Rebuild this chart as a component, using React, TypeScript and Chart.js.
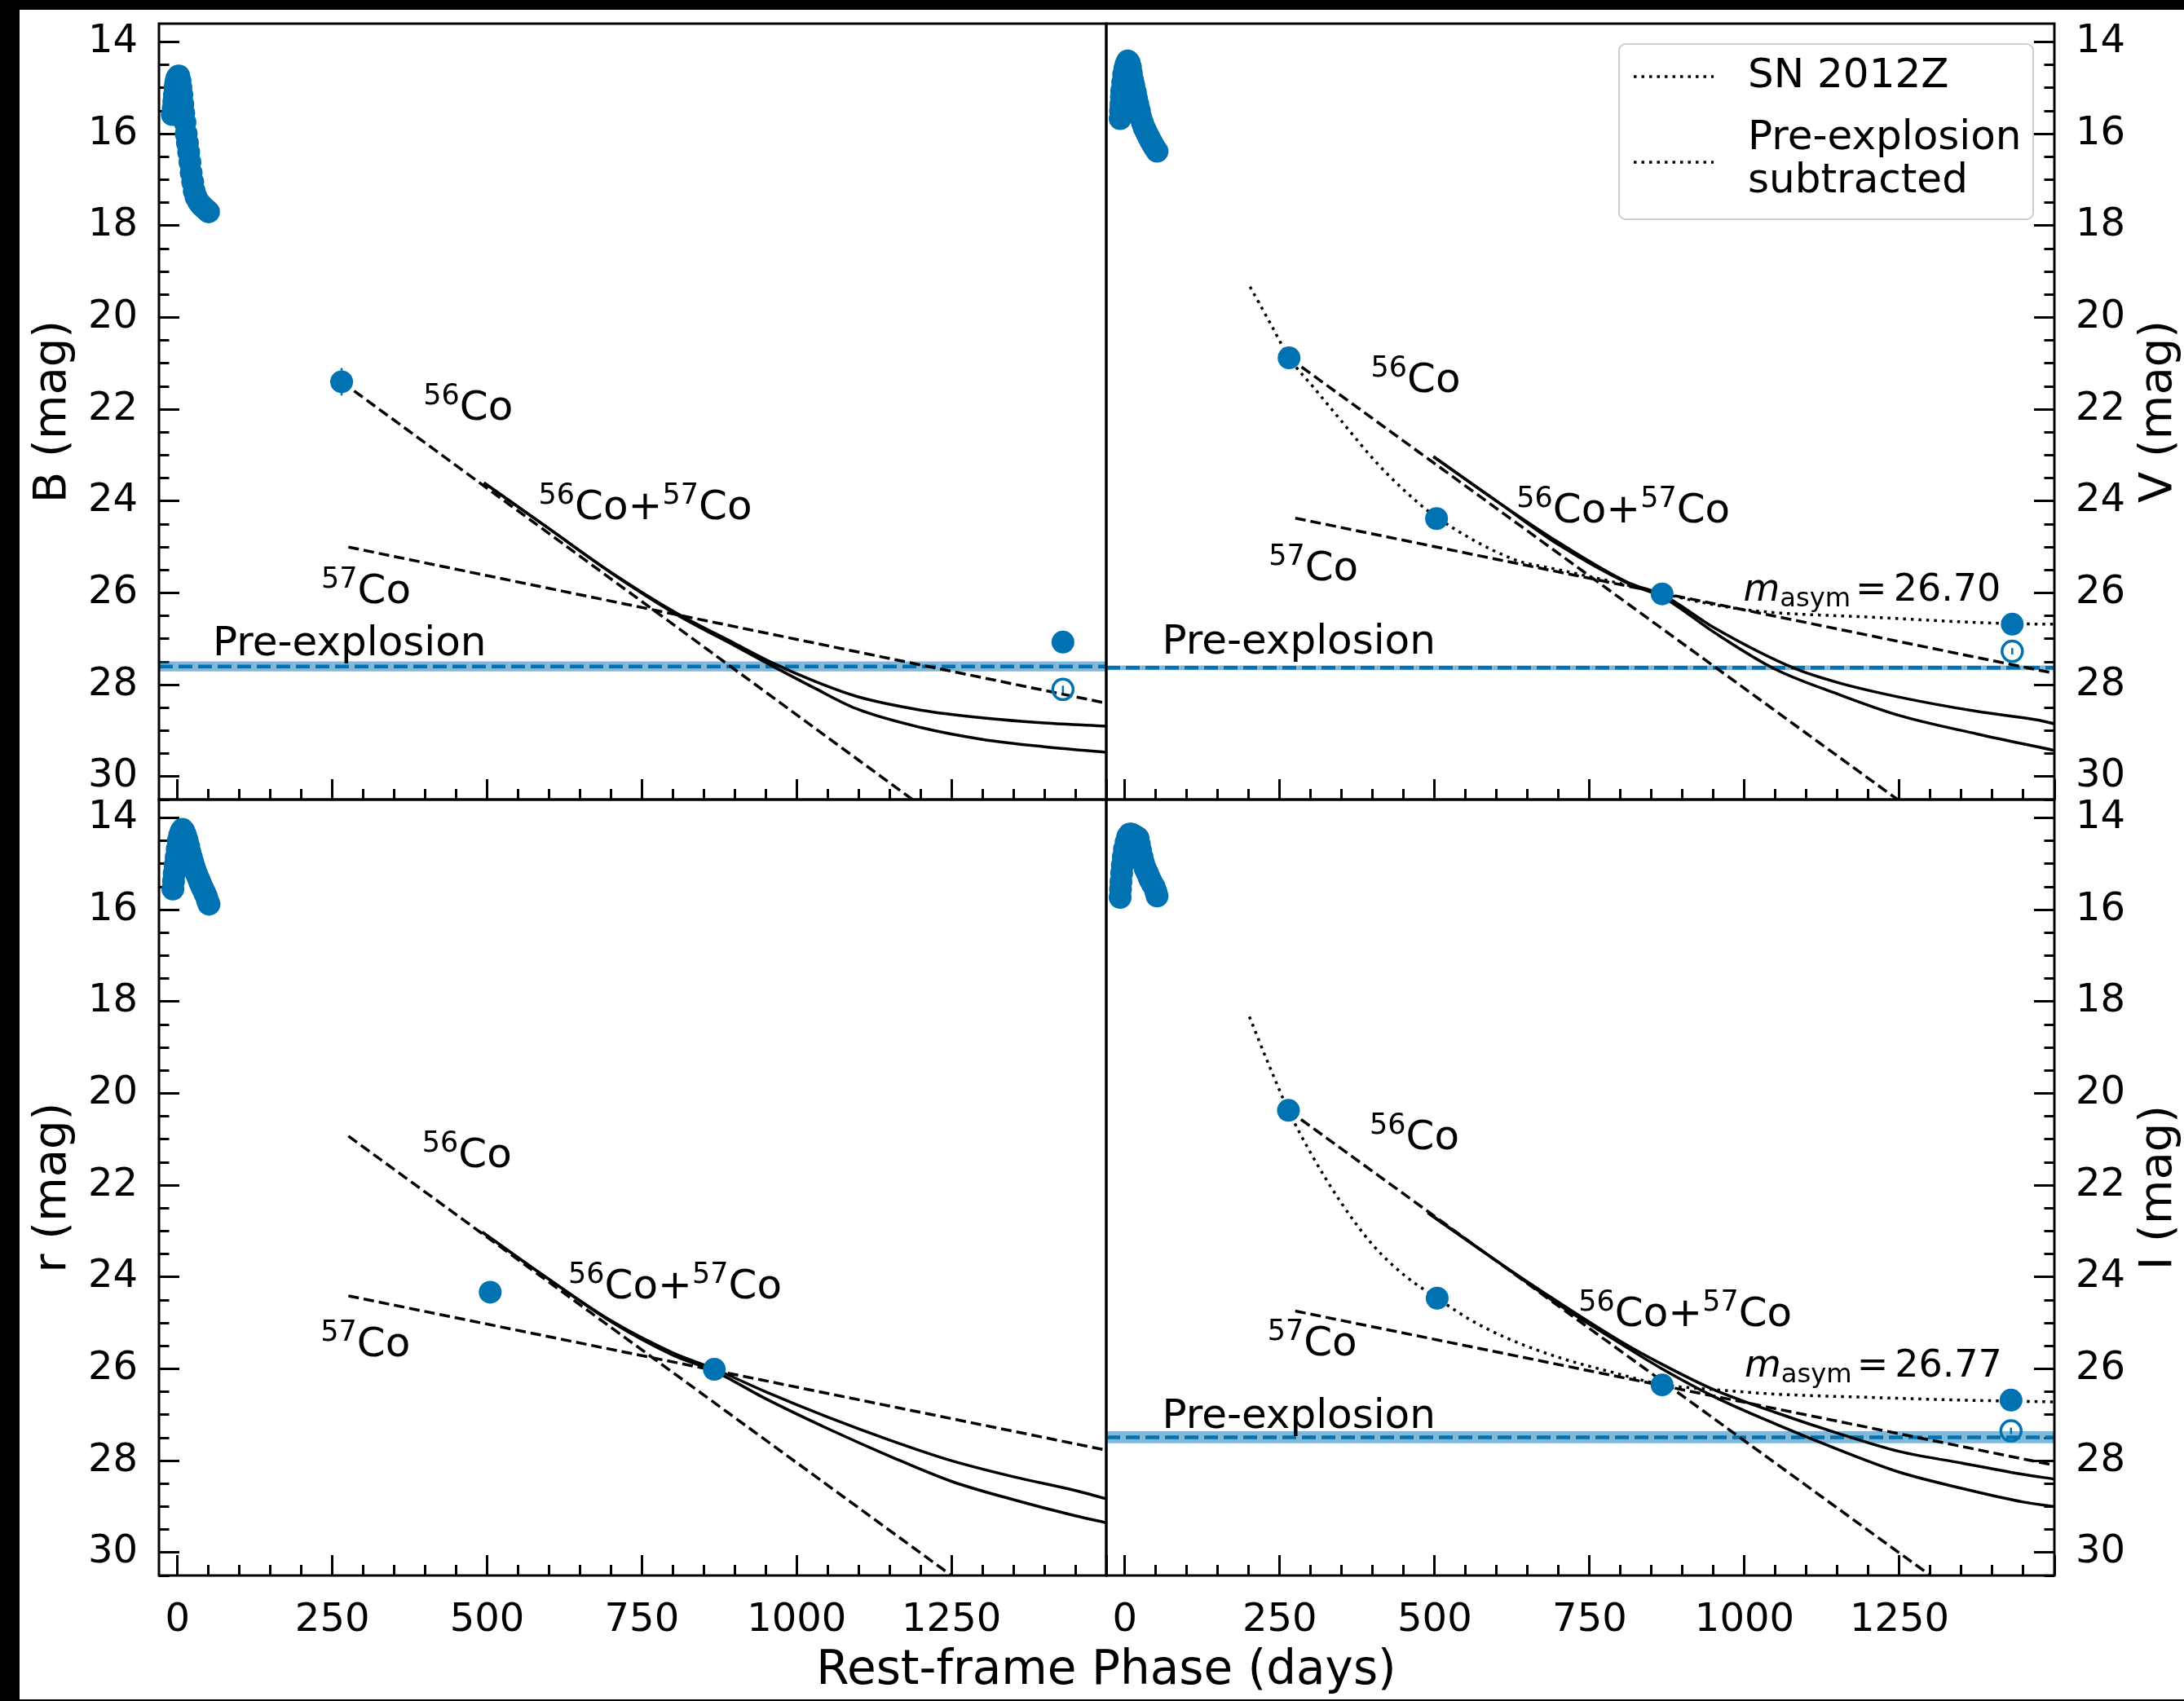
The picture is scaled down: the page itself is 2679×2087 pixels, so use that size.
import React, { useEffect, useRef } from 'react';
import { Chart, registerables } from 'chart.js';

Chart.register(...registerables);

// ---------------- page / axes ----------------
const PAGE_W = 2679;
const PAGE_H = 2087;
const PHASE_MIN = -30;
const PHASE_MAX = 1500;
const MAG_BRIGHT = 13.6;
const MAG_FAINT = 30.5;
const PHASE_MAJOR_STEP = 250;
const PHASE_MINOR_STEP = 50;
const MAG_MAJOR_STEP = 2;
const MAG_MINOR_STEP = 0.5;
const LAST_PHASE_LABEL = 1250;
const X_TITLE = 'Rest-frame Phase (days)';

// ---------------- B band ----------------
const bEarlyPhase = [-8.5, -7, -6, -5, -4, -3, -1.5, 0.5, 2, 4, 5.5, 7, 8.5, 10, 12, 14, 16, 18, 20, 22, 24.5, 27, 30, 34, 38, 42, 46, 50];
const bEarlyMag = [15.58, 15.45, 15.3, 15.15, 15.0, 14.9, 14.8, 14.75, 14.74, 14.85, 15.0, 15.15, 15.35, 15.55, 15.75, 16.0, 16.2, 16.4, 16.62, 16.85, 17.05, 17.25, 17.38, 17.48, 17.55, 17.6, 17.65, 17.7];
const bLatePhase = [265, 1430];
const bLateMag = [21.4, 27.07];
const bLateErr = [0.3, 0.1];
const bSubPhase = [1430];
const bSubMag = [28.1];
const bSubErr = [0.08];
const bPreMag = 27.6;
const bPreErr = 0.11;
const bCo56Phase = [265, 1187];
const bCo56Mag = [21.4, 30.5];
const bCo57Phase = [276, 1500];
const bCo57Mag = [25.0, 28.4];
const bSumAPhase = [495, 600, 700, 806, 900, 962, 1030, 1096, 1200, 1300, 1400, 1500];
const bSumAMag = [23.6, 24.6, 25.55, 26.44, 27.1, 27.53, 27.93, 28.25, 28.55, 28.72, 28.83, 28.9];
const bSumBPhase = [495, 600, 700, 806, 900, 962, 1030, 1096, 1200, 1300, 1400, 1500];
const bSumBMag = [23.6, 24.6, 25.56, 26.47, 27.15, 27.6, 28.08, 28.52, 28.93, 29.19, 29.35, 29.47];

// ---------------- V band ----------------
const vEarlyPhase = [-7.6, -7, -6.3, -5.6, -5, -3.5, -2, 0, 2, 4.6, 7, 9, 10.5, 12.5, 14.5, 17, 19, 21, 23.5, 25.7, 28.5, 31, 33.2, 36, 39, 42, 45, 48, 52];
const vEarlyMag = [15.67, 15.5, 15.36, 15.2, 15.06, 14.88, 14.71, 14.58, 14.48, 14.41, 14.45, 14.55, 14.68, 14.83, 14.95, 15.1, 15.24, 15.36, 15.5, 15.65, 15.76, 15.86, 15.92, 16.0, 16.08, 16.16, 16.23, 16.3, 16.38];
const vLatePhase = [265, 503, 867, 1432];
const vLateMag = [20.88, 24.38, 26.02, 26.68];
const vLateErr = [0.08, 0.1, 0.08, 0.08];
const vSubPhase = [1432];
const vSubMag = [27.27];
const vSubErr = [0.07];
const vPreMag = 27.63;
const vPreErr = 0.05;
const vCo56Phase = [265, 1247];
const vCo56Mag = [20.88, 30.5];
const vCo57Phase = [275, 1500];
const vCo57Mag = [24.37, 27.75];
const vSumAPhase = [498, 600, 700, 813, 869, 950, 1082, 1150, 1250, 1375, 1474, 1500];
const vSumAMag = [23.03, 24.0, 24.9, 25.78, 26.05, 26.75, 27.65, 27.95, 28.27, 28.58, 28.77, 28.85];
const vSumBPhase = [498, 600, 700, 813, 869, 950, 1048, 1150, 1250, 1375, 1500];
const vSumBMag = [23.03, 24.0, 24.95, 25.8, 26.1, 26.85, 27.65, 28.2, 28.67, 29.07, 29.43];
const vDotPhase = [202, 234, 266, 305, 351, 402, 452, 502, 628, 695, 762, 830, 869, 998, 1208, 1432, 1500];
const vDotMag = [19.33, 20.11, 20.89, 21.53, 22.28, 23.1, 23.78, 24.34, 25.27, 25.48, 25.68, 25.89, 26.02, 26.36, 26.53, 26.67, 26.68];
const vAsym = '26.70';

// ---------------- r band ----------------
const rEarlyPhase = [-7.5, -6.5, -5.4, -4, -2.2, -0.5, 1.2, 3.5, 5.5, 7.8, 10, 12, 14, 15.7, 18, 20, 22.3, 24.5, 26.5, 28.8, 31, 33.5, 35.5, 37.7, 40, 42.5, 44.5, 46.5, 48.5, 50.8];
const rEarlyMag = [15.55, 15.38, 15.21, 15.03, 14.86, 14.68, 14.5, 14.38, 14.3, 14.25, 14.28, 14.35, 14.43, 14.5, 14.62, 14.75, 14.86, 14.96, 15.06, 15.15, 15.23, 15.31, 15.38, 15.45, 15.52, 15.59, 15.65, 15.71, 15.8, 15.88];
const rLatePhase = [505, 867];
const rLateMag = [24.33, 26.01];
const rLateErr = [0.1, 0.08];
const rCo56Phase = [276, 1250];
const rCo56Mag = [20.93, 30.5];
const rCo57Phase = [276, 1500];
const rCo57Mag = [24.41, 27.77];
const rSumAPhase = [492, 600, 700, 800, 867, 950, 1050, 1150, 1250, 1350, 1450, 1500];
const rSumAMag = [23.02, 24.05, 24.95, 25.65, 26.0, 26.5, 27.05, 27.55, 28.0, 28.35, 28.65, 28.83];
const rSumBPhase = [492, 600, 700, 800, 867, 950, 1050, 1150, 1250, 1350, 1450, 1500];
const rSumBMag = [23.02, 24.05, 24.97, 25.7, 26.05, 26.65, 27.3, 27.9, 28.45, 28.85, 29.2, 29.35];

// ---------------- I band ----------------
const iEarlyPhase = [-7.6, -7, -6.3, -5.2, -4.1, -2.5, -0.6, 2, 4.6, 7, 9.1, 11.5, 14, 16.5, 19, 21.3, 23.5, 25.5, 27.9, 30, 32.5, 34.5, 36.7, 39, 41.5, 44.5, 47.7, 50, 52];
const iEarlyMag = [15.73, 15.55, 15.39, 15.2, 15.03, 14.85, 14.68, 14.53, 14.41, 14.36, 14.35, 14.36, 14.38, 14.4, 14.42, 14.44, 14.58, 14.72, 14.86, 14.98, 15.09, 15.15, 15.21, 15.29, 15.36, 15.44, 15.51, 15.6, 15.7];
const iLatePhase = [264, 504, 867, 1430];
const iLateMag = [20.37, 24.46, 26.35, 26.68];
const iLateErr = [0.08, 0.1, 0.08, 0.08];
const iSubPhase = [1430];
const iSubMag = [27.35];
const iSubErr = [0.07];
const iPreMag = 27.49;
const iPreErr = 0.13;
const iCo56Phase = [264, 1300];
const iCo56Mag = [20.37, 30.5];
const iCo57Phase = [275, 1500];
const iCo57Mag = [24.74, 28.1];
const iSumAPhase = [489, 600, 700, 800, 867, 950, 1050, 1150, 1250, 1350, 1450, 1500];
const iSumAMag = [22.6, 23.65, 24.55, 25.4, 25.9, 26.45, 26.95, 27.4, 27.8, 28.05, 28.3, 28.4];
const iSumBPhase = [489, 600, 700, 800, 867, 950, 1050, 1150, 1250, 1350, 1450, 1500];
const iSumBMag = [22.6, 23.65, 24.6, 25.45, 26.0, 26.6, 27.2, 27.75, 28.25, 28.6, 28.9, 29.0];
const iDotPhase = [201, 230, 264, 300, 350, 400, 450, 504, 560, 620, 700, 780, 867, 950, 1050, 1200, 1350, 1500];
const iDotMag = [18.33, 19.3, 20.37, 21.3, 22.4, 23.3, 23.95, 24.46, 24.95, 25.35, 25.75, 26.05, 26.34, 26.45, 26.55, 26.62, 26.68, 26.72];
const iAsym = '26.77';

// ---------------- legend ----------------
const legendLabels = [['SN 2012Z'], ['Pre-explosion', 'subtracted']];

// ---------------- styling ----------------
const BLUE = '#0072B2';
const BAND = 'rgba(0, 114, 178, 0.5)';
const FAMILY = '"DejaVu Sans", sans-serif';
const TICK_FS = 48;
const TEXT_FS = 50;
const ASYM_FS = 46;
const TITLE_FS = 56;
const XTITLE_FS = 58;
const LW = 3.5;
const DASH = [13, 6];
const DOT = [3.5, 6];

type Kind = 'n' | 'sup' | 'sub' | 'it' | 'gap';
type Part = [string, Kind, number?];
type Ann = { x: number; y: number; parts: Part[]; size?: number };
type ErrSet = { phase: number[]; mag: number[]; err: number[] };

interface PanelSpec {
  key: string;
  left: number;
  top: number;
  right: number;
  bottom: number;
  side: 'left' | 'right';
  xLabels: boolean;
  yTitle: string;
  datasets: any[];
  errs: ErrSet[];
  texts: Ann[];
  legend?: boolean;
  figureXTitle?: boolean;
}

const xy = (px: number[], mg: number[]) => px.map((x, i) => ({ x, y: mg[i] }));
const stepValues = (from: number, to: number, step: number) => {
  const out: number[] = [];
  for (let k = Math.ceil(from / step - 1e-9); k * step <= to + 1e-9; k++) out.push(+(k * step).toFixed(6));
  return out;
};

const common = { xAxisID: 'x', yAxisID: 'y' };

function filledPoints(px: number[], mg: number[]) {
  return {
    ...common,
    type: 'scatter',
    data: xy(px, mg),
    showLine: false,
    pointRadius: 14,
    pointHoverRadius: 14,
    pointBackgroundColor: BLUE,
    pointBorderColor: BLUE,
    pointBorderWidth: 0,
  };
}
function openPoints(px: number[], mg: number[]) {
  return {
    ...common,
    type: 'scatter',
    data: xy(px, mg),
    showLine: false,
    pointRadius: 12.5,
    pointHoverRadius: 12.5,
    pointBackgroundColor: 'rgba(0,0,0,0)',
    pointBorderColor: BLUE,
    pointBorderWidth: 3.5,
  };
}
function line(px: number[], mg: number[], dash: number[], curved: boolean, color = '#000', width = LW) {
  return {
    ...common,
    type: 'line',
    data: xy(px, mg),
    borderColor: color,
    borderWidth: width,
    borderDash: dash,
    borderCapStyle: 'butt',
    pointRadius: 0,
    pointHoverRadius: 0,
    fill: false,
    tension: 0,
    cubicInterpolationMode: curved ? 'monotone' : 'default',
  };
}
function preExplosion(level: number, err: number) {
  const ends = [PHASE_MIN, PHASE_MAX];
  return [
    line(ends, [level, level], [17, 7], false, BLUE, 4.5),
    {
      ...common,
      type: 'line',
      data: xy(ends, [level - err, level - err]),
      borderColor: 'rgba(0,0,0,0)',
      borderWidth: 1,
      pointRadius: 0,
      fill: false,
    },
    {
      ...common,
      type: 'line',
      data: xy(ends, [level + err, level + err]),
      borderColor: 'rgba(0,0,0,0)',
      borderWidth: 1,
      pointRadius: 0,
      fill: '-1',
      backgroundColor: BAND,
    },
  ];
}

const co56: Part[] = [['56', 'sup'], ['Co', 'n']];
const co57: Part[] = [['57', 'sup'], ['Co', 'n']];
const coSum: Part[] = [['56', 'sup'], ['Co+', 'n'], ['57', 'sup'], ['Co', 'n']];
const preText: Part[] = [['Pre-explosion', 'n']];
const asym = (v: string): Part[] => [
  ['m', 'it'],
  ['asym', 'sub'],
  ['', 'gap', 6],
  ['=', 'n'],
  ['', 'gap', 8],
  [v, 'n'],
];

const COL_L = [195, 1357];
const COL_R = [1357, 2520];
const ROW_T = [29, 981];
const ROW_B = [981, 1933];

const panels: PanelSpec[] = [
  {
    key: 'B',
    left: COL_L[0], right: COL_L[1], top: ROW_T[0], bottom: ROW_T[1],
    side: 'left', xLabels: false, yTitle: 'B (mag)',
    datasets: [
      filledPoints(bEarlyPhase, bEarlyMag),
      filledPoints(bLatePhase, bLateMag),
      openPoints(bSubPhase, bSubMag),
      line(bSumAPhase, bSumAMag, [], true),
      line(bSumBPhase, bSumBMag, [], true),
      line(bCo56Phase, bCo56Mag, DASH, false),
      line(bCo57Phase, bCo57Mag, DASH, false),
      ...preExplosion(bPreMag, bPreErr),
    ],
    errs: [
      { phase: bLatePhase, mag: bLateMag, err: bLateErr },
      { phase: bSubPhase, mag: bSubMag, err: bSubErr },
    ],
    texts: [
      { x: 397, y: 22.23, parts: co56 },
      { x: 583, y: 24.39, parts: coSum },
      { x: 232, y: 26.22, parts: co57 },
      { x: 57, y: 27.35, parts: preText },
    ],
  },
  {
    key: 'V',
    left: COL_R[0], right: COL_R[1], top: ROW_T[0], bottom: ROW_T[1],
    side: 'right', xLabels: false, yTitle: 'V (mag)', legend: true,
    datasets: [
      filledPoints(vEarlyPhase, vEarlyMag),
      filledPoints(vLatePhase, vLateMag),
      openPoints(vSubPhase, vSubMag),
      line(vDotPhase, vDotMag, DOT, true),
      line(vSumAPhase, vSumAMag, [], true),
      line(vSumBPhase, vSumBMag, [], true),
      line(vCo56Phase, vCo56Mag, DASH, false),
      line(vCo57Phase, vCo57Mag, DASH, false),
      ...preExplosion(vPreMag, vPreErr),
    ],
    errs: [
      { phase: vLatePhase, mag: vLateMag, err: vLateErr },
      { phase: vSubPhase, mag: vSubMag, err: vSubErr },
    ],
    texts: [
      { x: 397, y: 21.62, parts: co56 },
      { x: 632, y: 24.46, parts: coSum },
      { x: 232, y: 25.72, parts: co57 },
      { x: 998, y: 26.16, parts: asym(vAsym), size: ASYM_FS },
      { x: 60, y: 27.33, parts: preText },
    ],
  },
  {
    key: 'r',
    left: COL_L[0], right: COL_L[1], top: ROW_B[0], bottom: ROW_B[1],
    side: 'left', xLabels: true, yTitle: 'r (mag)', figureXTitle: true,
    datasets: [
      filledPoints(rEarlyPhase, rEarlyMag),
      filledPoints(rLatePhase, rLateMag),
      line(rSumAPhase, rSumAMag, [], true),
      line(rSumBPhase, rSumBMag, [], true),
      line(rCo56Phase, rCo56Mag, DASH, false),
      line(rCo57Phase, rCo57Mag, DASH, false),
    ],
    errs: [{ phase: rLatePhase, mag: rLateMag, err: rLateErr }],
    texts: [
      { x: 395, y: 21.61, parts: co56 },
      { x: 631, y: 24.46, parts: coSum },
      { x: 231, y: 25.73, parts: co57 },
    ],
  },
  {
    key: 'I',
    left: COL_R[0], right: COL_R[1], top: ROW_B[0], bottom: ROW_B[1],
    side: 'right', xLabels: true, yTitle: 'I (mag)',
    datasets: [
      filledPoints(iEarlyPhase, iEarlyMag),
      filledPoints(iLatePhase, iLateMag),
      openPoints(iSubPhase, iSubMag),
      line(iDotPhase, iDotMag, DOT, true),
      line(iSumAPhase, iSumAMag, [], true),
      line(iSumBPhase, iSumBMag, [], true),
      line(iCo56Phase, iCo56Mag, DASH, false),
      line(iCo57Phase, iCo57Mag, DASH, false),
      ...preExplosion(iPreMag, iPreErr),
    ],
    errs: [
      { phase: iLatePhase, mag: iLateMag, err: iLateErr },
      { phase: iSubPhase, mag: iSubMag, err: iSubErr },
    ],
    texts: [
      { x: 395, y: 21.21, parts: co56 },
      { x: 732, y: 25.07, parts: coSum },
      { x: 230, y: 25.7, parts: co57 },
      { x: 1000, y: 26.16, parts: asym(iAsym), size: ASYM_FS },
      { x: 60, y: 27.28, parts: preText },
    ],
  },
];

function drawRich(ctx: CanvasRenderingContext2D, x: number, y: number, parts: Part[], size: number) {
  let cx = x;
  ctx.textAlign = 'left';
  ctx.textBaseline = 'alphabetic';
  for (const [t, k, g] of parts) {
    if (k === 'gap') {
      cx += g || 0;
      continue;
    }
    let fs = size;
    let dy = 0;
    let style = '';
    if (k === 'sup') {
      fs = size * 0.7;
      dy = -size * 0.38;
    } else if (k === 'sub') {
      fs = size * 0.7;
      dy = size * 0.17;
    } else if (k === 'it') {
      style = 'italic ';
    }
    ctx.font = `${style}${fs}px ${FAMILY}`;
    ctx.fillText(t, cx, y + dy);
    cx += ctx.measureText(t).width;
  }
}

function drawLegend(ctx: CanvasRenderingContext2D, area: any) {
  const r = area.right - 26;
  const l = r - 508;
  const t = area.top + 25;
  const b = t + 215;
  ctx.save();
  ctx.beginPath();
  (ctx as any).roundRect(l, t, r - l, b - t, 8);
  ctx.fillStyle = 'rgba(255,255,255,0.8)';
  ctx.fill();
  ctx.strokeStyle = '#cccccc';
  ctx.lineWidth = 2;
  ctx.stroke();
  const rows = [
    { sample: t + 40, lines: [t + 40] },
    { sample: t + 145, lines: [t + 116, t + 169] },
  ];
  legendLabels.forEach((label, i) => {
    const row = rows[i];
    ctx.beginPath();
    ctx.setLineDash(DOT);
    ctx.lineWidth = LW;
    ctx.strokeStyle = '#000';
    ctx.moveTo(l + 18, row.sample);
    ctx.lineTo(l + 116, row.sample);
    ctx.stroke();
    ctx.setLineDash([]);
    ctx.fillStyle = '#000';
    ctx.font = `${TEXT_FS}px ${FAMILY}`;
    ctx.textAlign = 'left';
    ctx.textBaseline = 'middle';
    label.forEach((txt, j) => ctx.fillText(txt, l + 158, row.lines[j]));
  });
  ctx.restore();
}

function buildConfig(spec: PanelSpec): any {
  const isLeft = spec.side === 'left';
  const yAxisW = isLeft ? 170 : 130;
  const xAxisH = spec.xLabels ? 100 : 0;
  const padding = {
    left: isLeft ? spec.left - yAxisW : spec.left,
    right: isLeft ? PAGE_W - spec.right : PAGE_W - spec.right - yAxisW,
    top: spec.top,
    bottom: PAGE_H - spec.bottom - xAxisH,
  };
  const zeroPad = (s: any) => {
    s.paddingLeft = 0;
    s.paddingRight = 0;
    s.paddingTop = 0;
    s.paddingBottom = 0;
  };
  const tickGrid = (len: number) => ({
    display: true,
    drawOnChartArea: false,
    drawTicks: true,
    tickLength: len,
    tickWidth: 3,
    tickColor: '#000',
  });
  const setTicks = (values: number[]) => (s: any) => {
    s.ticks = values.map((value) => ({ value }));
  };
  const tickFont = { size: TICK_FS, family: FAMILY };

  const decor = {
    id: 'decor' + spec.key,
    beforeDatasetsDraw(chart: any) {
      const { ctx } = chart;
      const xs = chart.scales.x;
      const ys = chart.scales.y;
      ctx.save();
      ctx.strokeStyle = BLUE;
      ctx.lineWidth = 2.5;
      for (const e of spec.errs) {
        e.phase.forEach((p, i) => {
          const px = xs.getPixelForValue(p);
          ctx.beginPath();
          ctx.moveTo(px, ys.getPixelForValue(e.mag[i] - e.err[i]));
          ctx.lineTo(px, ys.getPixelForValue(e.mag[i] + e.err[i]));
          ctx.stroke();
        });
      }
      ctx.restore();
    },
    afterDatasetsDraw(chart: any) {
      const { ctx, chartArea: a } = chart;
      ctx.save();
      ctx.strokeStyle = '#000';
      ctx.lineWidth = 3;
      ctx.strokeRect(a.left, a.top, a.right - a.left, a.bottom - a.top);
      ctx.restore();
    },
    afterDraw(chart: any) {
      const { ctx, chartArea: a } = chart;
      const xs = chart.scales.x;
      const ys = chart.scales.y;
      ctx.save();
      ctx.fillStyle = '#000';
      for (const t of spec.texts) {
        drawRich(ctx, xs.getPixelForValue(t.x), ys.getPixelForValue(t.y), t.parts, t.size || TEXT_FS);
      }
      if (spec.legend) drawLegend(ctx, a);
      if (!isLeft) {
        ctx.save();
        ctx.translate(a.right + 128, (a.top + a.bottom) / 2);
        ctx.rotate(-Math.PI / 2);
        ctx.font = `${TITLE_FS}px ${FAMILY}`;
        ctx.textAlign = 'center';
        ctx.textBaseline = 'middle';
        ctx.fillStyle = '#000';
        ctx.fillText(spec.yTitle, 0, 0);
        ctx.restore();
      }
      if (spec.figureXTitle) {
        ctx.font = `${XTITLE_FS}px ${FAMILY}`;
        ctx.textAlign = 'center';
        ctx.textBaseline = 'alphabetic';
        ctx.fillStyle = '#000';
        ctx.fillText(X_TITLE, a.right, a.bottom + 133);
      }
      ctx.restore();
    },
  };

  return {
    type: 'scatter',
    data: { datasets: spec.datasets },
    plugins: [decor],
    options: {
      responsive: false,
      maintainAspectRatio: false,
      animation: false,
      devicePixelRatio: 1,
      events: [],
      layout: { padding },
      plugins: { legend: { display: false }, tooltip: { enabled: false } },
      scales: {
        x: {
          type: 'linear', axis: 'x', position: 'bottom', weight: 1,
          min: PHASE_MIN, max: PHASE_MAX,
          ticks: {
            display: spec.xLabels, autoSkip: false, maxRotation: 0, minRotation: 0, padding: 52,
            font: tickFont, color: '#000',
            callback: (v: number) => (v <= LAST_PHASE_LABEL ? String(v) : ''),
          },
          afterBuildTicks: setTicks(stepValues(PHASE_MIN, PHASE_MAX, PHASE_MAJOR_STEP)),
          grid: tickGrid(-25),
          border: { display: false },
          afterFit: (s: any) => { s.height = xAxisH; zeroPad(s); },
        },
        xMinor: {
          type: 'linear', axis: 'x', position: 'bottom', weight: 0,
          min: PHASE_MIN, max: PHASE_MAX,
          ticks: { display: false, autoSkip: false },
          afterBuildTicks: setTicks(stepValues(PHASE_MIN, PHASE_MAX, PHASE_MINOR_STEP)),
          grid: tickGrid(-13),
          border: { display: false },
          afterFit: (s: any) => { s.height = 0; zeroPad(s); },
        },
        y: {
          type: 'linear', axis: 'y', position: spec.side, weight: 1, reverse: true,
          min: MAG_BRIGHT, max: MAG_FAINT,
          ticks: {
            autoSkip: false, padding: 51,
            font: tickFont, color: '#000',
            callback: (v: number) => String(v),
          },
          afterBuildTicks: setTicks(stepValues(MAG_BRIGHT, MAG_FAINT, MAG_MAJOR_STEP)),
          grid: tickGrid(-25),
          border: { display: false },
          title: isLeft
            ? { display: true, text: spec.yTitle, color: '#000', font: { size: TITLE_FS, family: FAMILY }, padding: { top: 7, bottom: 0 } }
            : { display: false },
          afterFit: (s: any) => { s.width = yAxisW; zeroPad(s); },
        },
        yMinor: {
          type: 'linear', axis: 'y', position: spec.side, weight: 0, reverse: true,
          min: MAG_BRIGHT, max: MAG_FAINT,
          ticks: { display: false, autoSkip: false },
          afterBuildTicks: setTicks(stepValues(MAG_BRIGHT, MAG_FAINT, MAG_MINOR_STEP)),
          grid: tickGrid(-12.5),
          border: { display: false },
          afterFit: (s: any) => { s.width = 0; zeroPad(s); },
        },
      },
    },
  };
}

function PanelChart({ spec }: { spec: PanelSpec }) {
  const ref = useRef<HTMLCanvasElement>(null);
  useEffect(() => {
    const chart = new Chart(ref.current as HTMLCanvasElement, buildConfig(spec));
    return () => chart.destroy();
  }, [spec]);
  return (
    <canvas
      ref={ref}
      width={PAGE_W}
      height={PAGE_H}
      style={{ position: 'absolute', left: 0, top: 0, width: PAGE_W, height: PAGE_H }}
    />
  );
}

export default function App() {
  return (
    <div style={{ position: 'absolute', left: 0, top: 0, width: PAGE_W, height: PAGE_H, background: '#fff', overflow: 'hidden' }}>
      <div style={{ position: 'absolute', left: 0, top: 0, width: PAGE_W, height: 12, background: '#000' }} />
      <div style={{ position: 'absolute', left: 0, top: 0, width: 24, height: PAGE_H, background: '#000' }} />
      <div style={{ position: 'absolute', left: 0, top: PAGE_H - 2, width: PAGE_W, height: 2, background: '#000' }} />
      {panels.map((p) => (
        <PanelChart key={p.key} spec={p} />
      ))}
    </div>
  );
}
